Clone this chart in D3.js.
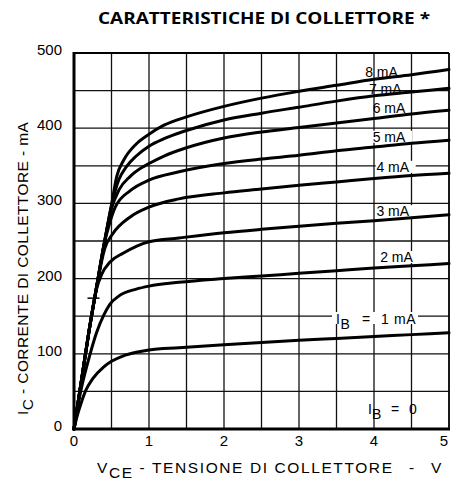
<!DOCTYPE html>
<html>
<head>
<meta charset="utf-8">
<script src="https://cdn.jsdelivr.net/npm/d3@7"></script>
<style>
  html, body { margin: 0; padding: 0; background: #fff; }
  svg { display: block; }
  text { font-family: "Liberation Sans", Arial, sans-serif; fill: #000; }
</style>
</head>
<body>
<svg id="chart" width="451" height="487"></svg>
<script>
// ---- data ----
const xTicks = [0, 1, 2, 3, 4, 5];
const yTicks = [0, 100, 200, 300, 400, 500];
const xGrid = [0.5, 1, 1.5, 2, 2.5, 3, 3.5, 4, 4.5];
const yGrid = [50, 100, 150, 200, 250, 300, 350, 400, 450];

const curveIB1 = [[0,0],[0.05,20],[0.1,36],[0.16,52],[0.25,67],[0.39,82],[0.5,90],[0.65,97],[0.83,102],[1.0,105],[1.4,108],[2,112],[2.5,115],[3,118],[3.5,120.5],[4,123],[4.5,125.5],[5,128]];
const curveIB2 = [[0,0],[0.05,30],[0.1,55],[0.21,98],[0.3,128],[0.4,152],[0.48,166],[0.6,177],[0.83,186],[1.0,190],[1.4,195],[2,200],[2.5,203.5],[3,207],[3.5,210.5],[4,214],[4.5,217],[5,220]];
const curveIB3 = [[0,0],[0.1,65],[0.2,130],[0.3,186],[0.37,206],[0.48,222],[0.66,234],[0.83,243],[1.0,249],[1.4,254],[2,261],[2.5,265.5],[3,269.5],[3.5,273.5],[4,277],[4.5,281],[5,285]];
const curveIB4 = [[0,0],[0.1,65],[0.2,130],[0.3,188],[0.41,240],[0.52,260],[0.75,282],[1.0,295],[1.4,306],[2,314],[2.5,319],[3,324],[3.5,328.5],[4,333],[4.5,337],[5,340]];
const curveIB5 = [[0,0],[0.1,65],[0.2,130],[0.3,188],[0.4,245],[0.47,272],[0.55,295],[0.75,317],[1.0,331],[1.4,342],[2,353],[2.5,359],[3,364],[3.5,370],[4,375],[4.5,380],[5,384]];
const curveIB6 = [[0,0],[0.1,65],[0.2,130],[0.3,188],[0.4,245],[0.5,293],[0.6,318],[0.75,336],[0.91,348],[1.0,353],[1.2,363],[1.5,374],[2,387],[2.5,395],[3,401],[3.5,407],[4,413],[4.5,419],[5,424]];
const curveIB7 = [[0,0],[0.1,65],[0.2,130],[0.3,188],[0.4,245],[0.5,297],[0.6,332],[0.7,349],[0.83,363],[1.0,376],[1.2,386],[1.5,397],[2,411],[2.5,420],[3,428],[3.5,436],[4,443],[4.5,448],[5,453]];
const curveIB8 = [[0,0],[0.1,65],[0.2,130],[0.3,188],[0.4,245],[0.5,298],[0.57,336],[0.66,357],[0.83,379],[1.0,392],[1.2,404],[1.5,415],[2,429],[2.5,440],[3,449],[3.5,457],[4,465],[4.5,471],[5,478]];
const curves = [curveIB1, curveIB2, curveIB3, curveIB4, curveIB5, curveIB6, curveIB7, curveIB8];

const curveLabels = ["8 mA", "7 mA", "6 mA", "5 mA", "4 mA", "3 mA", "2 mA"];
const curveLabelV = [4.1, 4.15, 4.2, 4.2, 4.25, 4.25, 4.3];
const curveLabelI = [468, 445, 420, 382, 342, 283, 222];
const crossMark = [0.26, 174];

// ---- layout ----
const svg = d3.select("#chart");
const x = d3.scaleLinear().domain([0, 5]).range([74, 449]);
const y = d3.scaleLinear().domain([0, 500]).range([429, 53]);

// grid
const g = svg.append("g");
g.selectAll(".vg").data(xGrid).join("line")
  .attr("x1", d => x(d)).attr("x2", d => x(d))
  .attr("y1", y(0)).attr("y2", y(500))
  .attr("stroke", "#111").attr("stroke-width", 1.3);
g.selectAll(".hg").data(yGrid).join("line")
  .attr("x1", x(0)).attr("x2", x(5))
  .attr("y1", d => y(d)).attr("y2", d => y(d))
  .attr("stroke", "#111").attr("stroke-width", 1.3);

function bg(cx, cy, w, h) {
  g.append("rect").attr("x", cx - w / 2).attr("y", cy - h / 2)
    .attr("width", w).attr("height", h).attr("fill", "#fff");
}

// frame
svg.append("line").attr("x1", x(0)).attr("x2", x(5)).attr("y1", y(500)).attr("y2", y(500)).attr("stroke", "#000").attr("stroke-width", 2.2);
svg.append("line").attr("x1", x(5)).attr("x2", x(5)).attr("y1", y(0)).attr("y2", y(500)).attr("stroke", "#000").attr("stroke-width", 1.8);
svg.append("line").attr("x1", x(0)).attr("x2", x(0)).attr("y1", y(0) + 1.5).attr("y2", y(500) - 1).attr("stroke", "#000").attr("stroke-width", 3);
svg.append("line").attr("x1", x(0) - 1.5).attr("x2", x(5) + 1).attr("y1", y(0)).attr("y2", y(0)).attr("stroke", "#000").attr("stroke-width", 3.2);

// curves
const line = d3.line().x(d => x(d[0])).y(d => y(d[1])).curve(d3.curveMonotoneX);
svg.selectAll(".curve").data(curves).join("path")
  .attr("d", line).attr("fill", "none").attr("stroke", "#000")
  .attr("stroke-width", 3).attr("stroke-linejoin", "round").attr("stroke-linecap", "round");

// cross mark
svg.append("line").attr("x1", x(crossMark[0]) - 6).attr("x2", x(crossMark[0]) + 6)
  .attr("y1", y(crossMark[1])).attr("y2", y(crossMark[1])).attr("stroke", "#000").attr("stroke-width", 1.5);

// curve labels
const lblG = svg.append("g");
curveLabels.forEach((t, i) => {
  const cx = x(curveLabelV[i]), cy = y(curveLabelI[i]);
  if (i >= 3) bg(cx + 3, cy - 5, 40, 12);
  lblG.append("text").attr("x", cx).attr("y", cy)
    .attr("font-size", 14).attr("text-anchor", "middle").text(t);
});
bg(375, 318, 86, 12);
const t1 = lblG.append("text").attr("x", 336).attr("y", 324).attr("font-size", 14).attr("letter-spacing", 0.6);
t1.append("tspan").text("I");
t1.append("tspan").attr("dy", 5).text("B");
t1.append("tspan").attr("dy", -5).attr("x", 362).text("=");
t1.append("tspan").attr("x", 381).text("1 mA");
const t0 = lblG.append("text").attr("x", 368).attr("y", 414).attr("font-size", 14);
t0.append("tspan").text("I");
t0.append("tspan").attr("dy", 5).text("B");
t0.append("tspan").attr("dy", -5).attr("x", 391).text("=");
t0.append("tspan").attr("x", 409).text("0");

// tick labels
svg.selectAll(".yt").data(yTicks).join("text")
  .attr("x", 62).attr("y", d => y(d) + 2).attr("text-anchor", "end")
  .attr("font-size", 15).text(d => d);
svg.selectAll(".xt").data(xTicks).join("text")
  .attr("x", d => Math.min(x(d), 444)).attr("y", 446).attr("text-anchor", "middle")
  .attr("font-size", 15).text(d => d);

// title
svg.append("text").attr("x", 264).attr("y", 24).attr("text-anchor", "middle")
  .style("font-family", "'Open Sans', sans-serif")
  .attr("font-size", 16).attr("font-weight", "bold")
  .attr("textLength", 332).attr("lengthAdjust", "spacingAndGlyphs")
  .text("CARATTERISTICHE DI COLLETTORE *");

// x title
const xt = svg.append("text").attr("y", 473).attr("font-size", 15.5).attr("letter-spacing", 1.6);
xt.append("tspan").attr("x", 97).text("V");
xt.append("tspan").attr("dy", 5).text("CE");
xt.append("tspan").attr("dy", -5).text(" - TENSIONE DI COLLETTORE");
xt.append("tspan").attr("x", 409).text("-");
xt.append("tspan").attr("x", 431).text("V");

// y title
const yt = svg.append("text").attr("transform", "translate(28,415) rotate(-90)")
  .attr("font-size", 15.5).attr("letter-spacing", 0.4);
yt.append("tspan").text("I");
yt.append("tspan").attr("dy", 5).text("C");
yt.append("tspan").attr("dy", -5).text(" - CORRENTE DI COLLETTORE - mA");
</script>
</body>
</html>
